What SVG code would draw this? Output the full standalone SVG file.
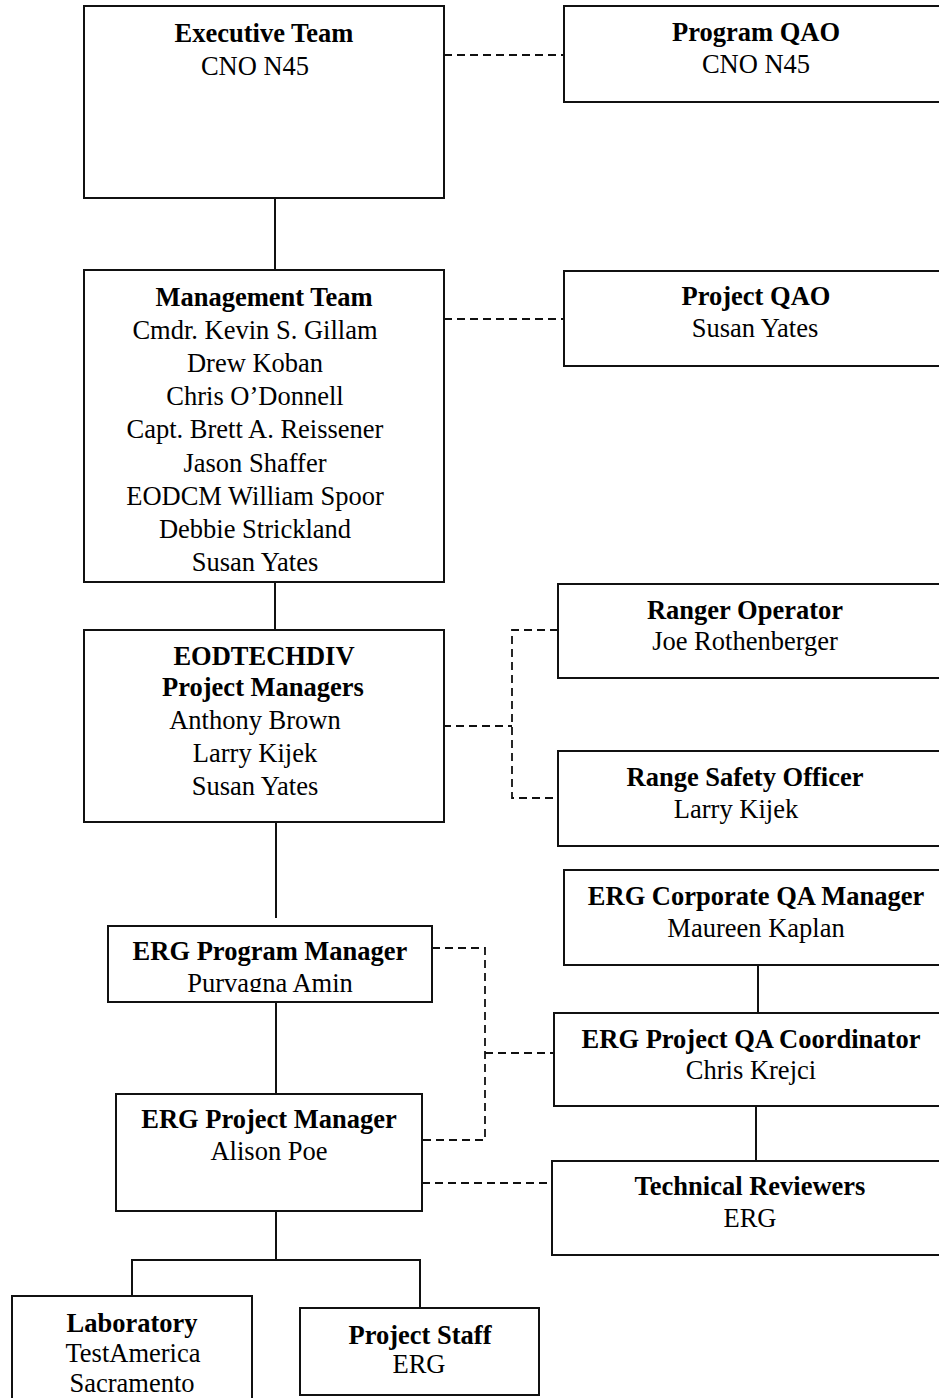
<svg xmlns="http://www.w3.org/2000/svg" width="939" height="1398" viewBox="0 0 939 1398">
<style>
.box{fill:#fff;stroke:#111;stroke-width:2}
.ln{fill:none;stroke:#111;stroke-width:2}
.dash{fill:none;stroke:#111;stroke-width:1.8;stroke-dasharray:8 5}
text{font-family:"Liberation Serif","Times New Roman",serif;font-size:26.5px;fill:#000;text-anchor:middle}
.t{font-weight:bold}
</style>
<defs>
<clipPath id="clipPgm"><rect x="108" y="926" width="324" height="66"/></clipPath>
</defs>
<g id="connectors">
<path class="ln" d="M275,198 V270"/>
<path class="ln" d="M275,582 V630"/>
<path class="ln" d="M276,822 V918"/>
<path class="ln" d="M276,1002 V1094"/>
<path class="ln" d="M276,1211 V1260"/>
<path class="ln" d="M132,1296 V1260 H420 V1308"/>
<path class="ln" d="M758,965 V1013"/>
<path class="ln" d="M756,1106 V1161"/>
<path class="dash" d="M444,55 H564"/>
<path class="dash" d="M444,319 H564"/>
<path class="dash" d="M443,726 H512"/>
<path class="dash" d="M558,630 H512 V798 H558"/>
<path class="dash" d="M432,948 H485 V1140 H422"/>
<path class="dash" d="M485,1053 H554"/>
<path class="dash" d="M422,1183 H552"/>
</g>
<g id="executive-team">
<rect class="box" x="84" y="6" width="360" height="192"/>
<text class="t" x="264" y="42">Executive Team</text>
<text x="255" y="75">CNO N45</text>
</g>
<g id="program-qao">
<rect class="box" x="564" y="6" width="400" height="96"/>
<text class="t" x="756" y="41">Program QAO</text>
<text x="756" y="73">CNO N45</text>
</g>
<g id="management-team">
<rect class="box" x="84" y="270" width="360" height="312"/>
<text class="t" x="264" y="306">Management Team</text>
<text x="255" y="339">Cmdr. Kevin S. Gillam</text>
<text x="255" y="372">Drew Koban</text>
<text x="255" y="405">Chris O’Donnell</text>
<text x="255" y="438">Capt. Brett A. Reissener</text>
<text x="255" y="472">Jason Shaffer</text>
<text x="255" y="505">EODCM William Spoor</text>
<text x="255" y="538">Debbie Strickland</text>
<text x="255" y="571">Susan Yates</text>
</g>
<g id="project-qao">
<rect class="box" x="564" y="271" width="400" height="95"/>
<text class="t" x="756" y="305">Project QAO</text>
<text x="755" y="337">Susan Yates</text>
</g>
<g id="eodtechdiv">
<rect class="box" x="84" y="630" width="360" height="192"/>
<text class="t" x="264" y="665">EODTECHDIV</text>
<text class="t" x="263" y="696">Project Managers</text>
<text x="255" y="729">Anthony Brown</text>
<text x="255" y="762">Larry Kijek</text>
<text x="255" y="795">Susan Yates</text>
</g>
<g id="ranger-operator">
<rect class="box" x="558" y="584" width="400" height="94"/>
<text class="t" x="745" y="619">Ranger Operator</text>
<text x="745" y="650">Joe Rothenberger</text>
</g>
<g id="range-safety-officer">
<rect class="box" x="558" y="751" width="400" height="95"/>
<text class="t" x="745" y="786">Range Safety Officer</text>
<text x="736" y="818">Larry Kijek</text>
</g>
<g id="erg-corporate-qa">
<rect class="box" x="564" y="870" width="400" height="95"/>
<text class="t" x="756" y="905">ERG Corporate QA Manager</text>
<text x="756" y="937">Maureen Kaplan</text>
</g>
<g id="erg-project-qa-coordinator">
<rect class="box" x="554" y="1013" width="400" height="93"/>
<text class="t" x="751" y="1048">ERG Project QA Coordinator</text>
<text x="751" y="1079">Chris Krejci</text>
</g>
<g id="technical-reviewers">
<rect class="box" x="552" y="1161" width="400" height="94"/>
<text class="t" x="750" y="1195">Technical Reviewers</text>
<text x="750" y="1227">ERG</text>
</g>
<g id="erg-program-manager">
<rect class="box" x="108" y="926" width="324" height="76"/>
<text class="t" x="270" y="960">ERG Program Manager</text>
<text x="270" y="992" clip-path="url(#clipPgm)">Purvagna Amin</text>
</g>
<g id="erg-project-manager">
<rect class="box" x="116" y="1094" width="306" height="117"/>
<text class="t" x="269" y="1128">ERG Project Manager</text>
<text x="269" y="1160">Alison Poe</text>
</g>
<g id="laboratory">
<rect class="box" x="12" y="1296" width="240" height="130"/>
<text class="t" x="132" y="1332">Laboratory</text>
<text x="133" y="1362">TestAmerica</text>
<text x="132" y="1392">Sacramento</text>
</g>
<g id="project-staff">
<rect class="box" x="300" y="1308" width="239" height="87"/>
<text class="t" x="420" y="1344">Project Staff</text>
<text x="419" y="1373">ERG</text>
</g>
</svg>
